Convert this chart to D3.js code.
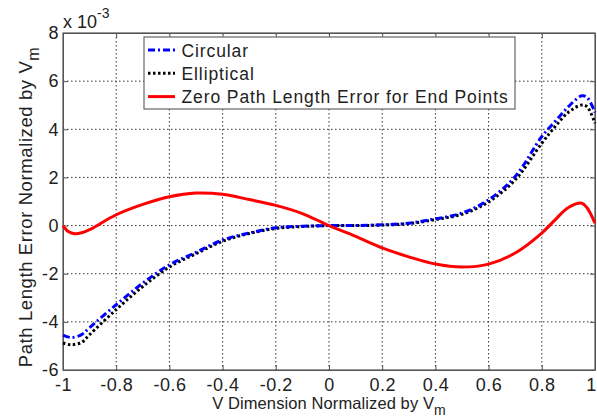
<!DOCTYPE html>
<html>
<head>
<meta charset="utf-8">
<script src="https://cdn.jsdelivr.net/npm/d3@7"></script>
<style>
  body { margin: 0; background: #fff; }
  svg { font-family: 'Liberation Sans', Arial, sans-serif; }
</style>
</head>
<body>
<div class="chart"></div>
<script>
// values (error in units of 1e-3)
const vPos = [-1, -0.97, -0.93, -0.9, -0.8, -0.7, -0.6, -0.5, -0.4, -0.3, -0.2, -0.1, 0, 0.1, 0.2, 0.3, 0.4, 0.5, 0.6, 0.7, 0.8, 0.85, 0.9, 0.95, 0.97, 1];
const circular = [-4.55, -4.65, -4.53, -4.24, -3.29, -2.39, -1.63, -1.11, -0.6, -0.31, -0.09, -0.03, 0, 0, 0.03, 0.1, 0.28, 0.52, 1.07, 2.04, 3.7, 4.32, 4.94, 5.39, 5.33, 4.7];
const elliptical = [-4.88, -4.95, -4.85, -4.53, -3.49, -2.53, -1.72, -1.17, -0.65, -0.33, -0.12, -0.04, 0, 0, 0.02, 0.08, 0.25, 0.47, 0.98, 1.9, 3.42, 4.11, 4.71, 5.01, 4.94, 4.25];
const redPos = [-1, -0.98, -0.955, -0.93, -0.9, -0.8, -0.7, -0.6, -0.5, -0.4, -0.3, -0.2, -0.1, 0, 0.1, 0.2, 0.3, 0.4, 0.5, 0.6, 0.7, 0.8, 0.85, 0.9, 0.95, 0.97, 1];
const zeroEnd = [0, -0.25, -0.34, -0.3, -0.17, 0.45, 0.88, 1.2, 1.35, 1.3, 1.08, 0.84, 0.5, 0, -0.45, -0.93, -1.3, -1.6, -1.72, -1.6, -1.14, -0.31, 0.24, 0.75, 0.93, 0.74, 0.1];
const xTicks = [-1, -0.8, -0.6, -0.4, -0.2, 0, 0.2, 0.4, 0.6, 0.8, 1];
const yTicks = [-6, -4, -2, 0, 2, 4, 6, 8];
const legendNames = ['Circular', 'Elliptical', 'Zero Path Length Error for End Points'];

const W = 597, H = 420;
const margin = { top: 33, right: 2, bottom: 50, left: 63 };
const width = W - margin.left - margin.right,
  height = H - margin.top - margin.bottom;

const svg = d3.select('.chart').append('svg').attr('width', W).attr('height', H);
const g = svg.append('g').attr('transform', `translate(${margin.left},${margin.top})`);

const x = d3.scaleLinear().domain([-1, 1]).range([0, width]);
const y = d3.scaleLinear().domain([-6, 8]).range([height, 0]);

// grid
g.selectAll('.vgrid').data(xTicks.slice(1, -1)).enter().append('line')
  .attr('x1', d => x(d)).attr('x2', d => x(d)).attr('y1', 0).attr('y2', height)
  .attr('stroke', '#333').attr('stroke-width', 1).attr('stroke-dasharray', '1.5,2.5');
g.selectAll('.hgrid').data(yTicks.slice(1, -1)).enter().append('line')
  .attr('x1', 0).attr('x2', width).attr('y1', d => y(d)).attr('y2', d => y(d))
  .attr('stroke', '#333').attr('stroke-width', 1).attr('stroke-dasharray', '1.5,2.5');

// axes
const fmt = d => String(d);
const xAxis = g.append('g').attr('transform', `translate(0,${height})`)
  .call(d3.axisBottom(x).tickValues(xTicks).tickSizeInner(-5).tickSizeOuter(0).tickPadding(8).tickFormat(fmt));
const yAxis = g.append('g')
  .call(d3.axisLeft(y).tickValues(yTicks).tickSizeInner(-5).tickSizeOuter(0).tickPadding(4).tickFormat(fmt));
g.append('g')
  .call(d3.axisTop(x).tickValues(xTicks).tickSizeInner(-5).tickSizeOuter(0).tickFormat(''));
g.append('g').attr('transform', `translate(${width},0)`)
  .call(d3.axisRight(y).tickValues(yTicks).tickSizeInner(-5).tickSizeOuter(0).tickFormat(''));
g.selectAll('.domain, .tick line').attr('stroke', '#555');
g.selectAll('.tick text').attr('fill', '#222').style('font-size', '18px').style('letter-spacing', '0.5px');
xAxis.selectAll('.tick text').filter(d => d === 1).attr('dx', -4);

// frame
g.append('rect').attr('width', width).attr('height', height)
  .attr('fill', 'none').attr('stroke', '#555').attr('stroke-width', 1.2);

// lines
const line = d3.line().curve(d3.curveCatmullRom.alpha(0.5));
const series = [
  { pts: vPos.map((v, i) => [x(v), y(circular[i])]), color: '#0000ff', dash: '7,3,2,3' },
  { pts: vPos.map((v, i) => [x(v), y(elliptical[i])]), color: '#000', dash: '2.5,2.5' },
  { pts: redPos.map((v, i) => [x(v), y(zeroEnd[i])]), color: '#ff0000', dash: null }
];
// draw black under blue
[series[1], series[0], series[2]].forEach(s => {
  g.append('path').attr('d', line(s.pts)).attr('fill', 'none')
    .attr('stroke', s.color).attr('stroke-width', 3)
    .attr('stroke-dasharray', s.dash);
});

// legend
const lg = g.append('g').attr('transform', `translate(${144 - margin.left},${37 - margin.top})`);
lg.append('rect').attr('width', 371).attr('height', 72).attr('fill', '#fff').attr('stroke', '#666').attr('stroke-width', 1.2);
legendNames.forEach((name, i) => {
  const yy = 13 + i * 23.3;
  const s = series[i];
  lg.append('line').attr('x1', 4).attr('x2', 31).attr('y1', yy).attr('y2', yy)
    .attr('stroke', s.color).attr('stroke-width', 3).attr('stroke-dasharray', s.dash);
  lg.append('text').attr('x', 37.5).attr('y', yy + 6.5).text(name)
    .style('font-size', '17.5px').style('letter-spacing', '0.9px').attr('fill', '#222');
});

// exponent
const ex = svg.append('text').attr('x', 63).attr('y', 28).style('font-size', '18px').attr('fill', '#222');
ex.append('tspan').text('x 10');
ex.append('tspan').attr('dy', -10).style('font-size', '14px').text('-3');

// axis labels
const xl = svg.append('text').attr('x', 329).attr('y', 409).attr('text-anchor', 'middle')
  .style('font-size', '16.5px').style('letter-spacing', '0.1px').attr('fill', '#222');
xl.append('tspan').text('V Dimension Normalized by V');
xl.append('tspan').attr('dy', 6).style('font-size', '14px').text('m');

const yl = svg.append('text').attr('transform', 'translate(32,207) rotate(-90)').attr('text-anchor', 'middle')
  .style('font-size', '18.5px').style('letter-spacing', '0.6px').attr('fill', '#222');
yl.append('tspan').text('Path Length Error Normalized by V');
yl.append('tspan').attr('dy', 7).style('font-size', '16px').text('m');
</script>
</body>
</html>
